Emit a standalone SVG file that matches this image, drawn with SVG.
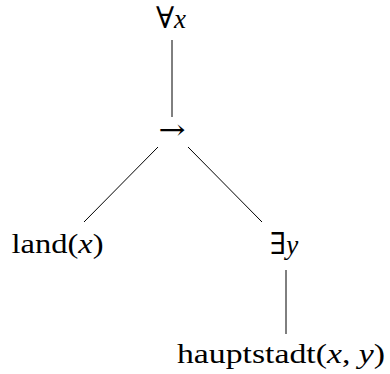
<svg xmlns="http://www.w3.org/2000/svg" width="390" height="374" viewBox="0 0 390 374">
<style>
text{font-size:27px;fill:#000;text-anchor:middle}
.i{font-style:italic}
.s{font-family:'DejaVu Serif',serif;font-weight:normal}
.e line{stroke:#000;stroke-width:1}
</style>
<rect width="390" height="374" fill="#fff"/>
<g class="e" id="edges">
<line x1="172" y1="40" x2="172" y2="117"/>
<line x1="158" y1="147" x2="84" y2="222"/>
<line x1="188" y1="147" x2="262" y2="222"/>
<line x1="286" y1="270" x2="286" y2="334"/>
</g>
<g font-family="'Liberation Serif', 'DejaVu Serif', serif">
<g id="n1"><text x="171" y="28"><tspan class="s" font-size="30">∀</tspan><tspan class="i">x</tspan></text></g>
<g id="n2"><text class="s" x="172" y="139" font-size="26" textLength="27" lengthAdjust="spacingAndGlyphs">→</text></g>
<g id="n3"><text x="57.5" y="253" textLength="92" lengthAdjust="spacingAndGlyphs">land(<tspan class="i">x</tspan>)</text></g>
<g id="n4"><text x="284" y="254"><tspan class="s" font-size="30">∃</tspan><tspan class="i">y</tspan></text></g>
<g id="n5"><text x="281" y="363" textLength="208" lengthAdjust="spacingAndGlyphs">hauptstadt(<tspan class="i">x</tspan>, <tspan class="i">y</tspan>)</text></g>
</g>
</svg>
